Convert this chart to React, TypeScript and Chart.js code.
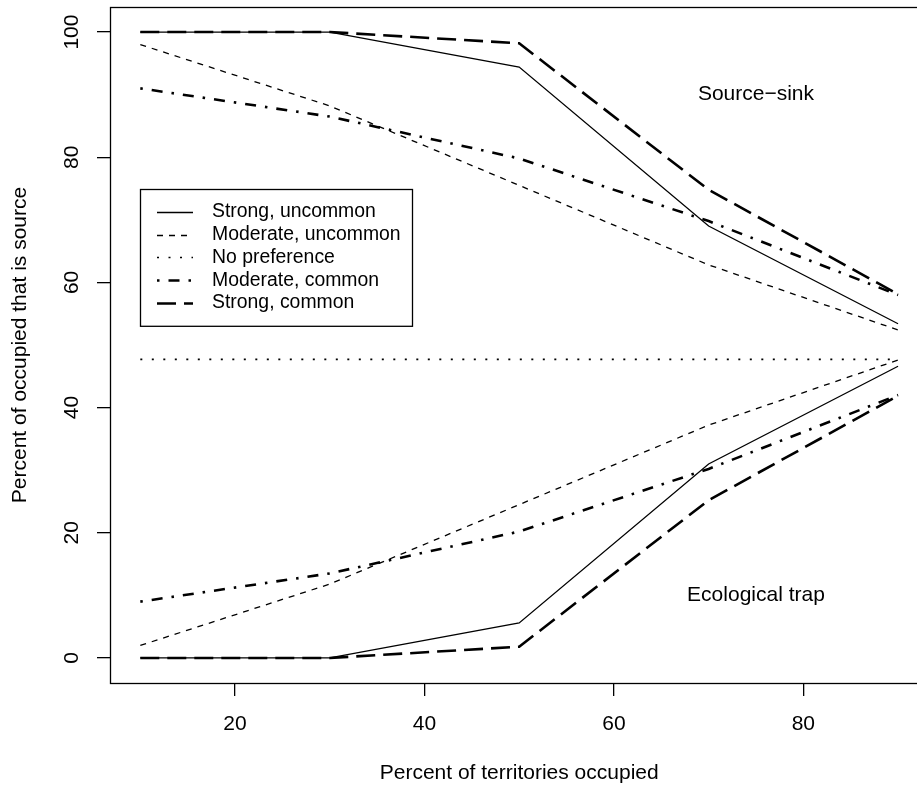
import React, { useEffect, useRef } from "react";
import { Chart, registerables } from "chart.js";

Chart.register(...registerables);

// ---- data ----
const xValues = [10, 30, 50, 70, 90];
const strongUncommonSource = [100, 100, 94.4, 69.0, 53.4];
const strongUncommonTrap = [0, 0, 5.6, 31.0, 46.6];
const moderateUncommonSource = [98, 88.2, 75.5, 62.8, 52.4];
const moderateUncommonTrap = [2, 11.8, 24.5, 37.2, 47.6];
const noPreference = [47.7, 47.7, 47.7, 47.7, 47.7];
const moderateCommonSource = [91, 86.5, 79.8, 69.8, 58.0];
const moderateCommonTrap = [9, 13.5, 20.2, 30.2, 42.0];
const strongCommonSource = [100, 100, 98.2, 74.8, 58.1];
const strongCommonTrap = [0, 0, 1.8, 25.2, 41.9];

const xTicks = [20, 40, 60, 80];
const yTicks = [0, 20, 40, 60, 80, 100];

const legendLabels = [
  "Strong, uncommon",
  "Moderate, uncommon",
  "No preference",
  "Moderate, common",
  "Strong, common",
];

const xTitle = "Percent of territories occupied";
const yTitle = "Percent of occupied that is source";
const annotations = [
  { text: "Source\u2212sink", x: 75, y: 90 },
  { text: "Ecological trap", x: 75, y: 10 },
];

// axis range (the plot's right part runs past the image edge)
const X_MIN = 6.8;
const X_BOX_MAX = 93.2;
const X_VISIBLE_MAX = 92.0;

// ---- styles ----
const FONT = '"Liberation Sans", Arial, Helvetica, sans-serif';
const styles = [
  { width: 1.3, dash: [] as number[] },
  { width: 1.3, dash: [6, 6] },
  { width: 1.6, dash: [2, 9.5] },
  { width: 2.6, dash: [2.5, 9, 11, 9] },
  { width: 2.6, dash: [19, 8] },
];

const seriesSets: number[][][] = [
  [strongUncommonSource, strongUncommonTrap],
  [moderateUncommonSource, moderateUncommonTrap],
  [noPreference],
  [moderateCommonSource, moderateCommonTrap],
  [strongCommonSource, strongCommonTrap],
];

const overlay = {
  id: "rbase",
  afterDraw(chart: any) {
    const ctx = chart.ctx as CanvasRenderingContext2D;
    const a = chart.chartArea;
    const xs = chart.scales.x;
    const ys = chart.scales.y;
    ctx.save();
    ctx.strokeStyle = "#000";
    ctx.fillStyle = "#000";
    // plot box (right side is past the canvas edge)
    const boxRight = xs.getPixelForValue(X_BOX_MAX);
    ctx.lineWidth = 1.3;
    ctx.setLineDash([]);
    ctx.strokeRect(a.left + 0.5, a.top + 0.5, boxRight - a.left, a.bottom - a.top);

    // tick labels
    ctx.font = `21px ${FONT}`;
    ctx.textAlign = "center";
    ctx.textBaseline = "middle";
    xTicks.forEach((v) => {
      ctx.fillText(String(v), xs.getPixelForValue(v), 724);
    });
    yTicks.forEach((v) => {
      ctx.save();
      ctx.translate(72.5, ys.getPixelForValue(v));
      ctx.rotate(-Math.PI / 2);
      ctx.fillText(String(v), 0, 0);
      ctx.restore();
    });

    // axis titles
    ctx.fillText(xTitle, (a.left + boxRight) / 2, 773);
    ctx.save();
    ctx.translate(20, (a.top + a.bottom) / 2);
    ctx.rotate(-Math.PI / 2);
    ctx.fillText(yTitle, 0, 0);
    ctx.restore();

    // annotations
    annotations.forEach((t) => {
      ctx.fillText(t.text, xs.getPixelForValue(t.x), ys.getPixelForValue(t.y));
    });

    // legend
    const lx = 140, ly = 189, lw = 272, step = 22.8;
    const lh = step * (legendLabels.length + 1);
    ctx.lineWidth = 1.3;
    ctx.strokeRect(lx + 0.5, ly + 0.5, lw, lh);
    ctx.font = `19.4px ${FONT}`;
    ctx.textAlign = "left";
    legendLabels.forEach((lab, i) => {
      const cy = ly + step * (i + 1);
      const st = styles[i];
      ctx.save();
      ctx.lineWidth = st.width;
      ctx.setLineDash(st.dash);
      ctx.beginPath();
      ctx.moveTo(157, Math.round(cy) + 0.5);
      ctx.lineTo(193, Math.round(cy) + 0.5);
      ctx.stroke();
      ctx.restore();
      ctx.fillText(lab, 212, cy);
    });
    ctx.restore();
  },
};

export default function App() {
  const ref = useRef<HTMLCanvasElement | null>(null);
  useEffect(() => {
    if (!ref.current) return;
    const datasets: any[] = [];
    seriesSets.forEach((set, i) => {
      set.forEach((vals) => {
        datasets.push({
          label: legendLabels[i],
          data: xValues.map((x, j) => ({ x, y: vals[j] })),
          borderColor: "#000",
          backgroundColor: "#000",
          borderWidth: styles[i].width,
          borderDash: styles[i].dash,
          pointRadius: 0,
          fill: false,
          tension: 0,
        });
      });
    });
    const chart = new Chart(ref.current, {
      type: "line",
      data: { datasets },
      options: {
        responsive: false,
        animation: false,
        devicePixelRatio: 1,
        layout: { padding: { top: 7, right: 0, left: 0, bottom: 0 } },
        plugins: { legend: { display: false }, tooltip: { enabled: false } },
        scales: {
          x: {
            type: "linear",
            min: X_MIN,
            max: X_VISIBLE_MAX,
            afterBuildTicks: (s: any) => {
              s.ticks = xTicks.map((v) => ({ value: v }));
            },
            afterFit: (s: any) => {
              s.height = 109;
            },
            ticks: { display: false },
            grid: { drawOnChartArea: false, drawTicks: true, tickLength: 13, color: "#000", lineWidth: 1.3 },
            border: { display: false },
          },
          y: {
            type: "linear",
            min: -4,
            max: 104,
            afterBuildTicks: (s: any) => {
              s.ticks = yTicks.map((v) => ({ value: v }));
            },
            afterFit: (s: any) => {
              s.width = 110;
            },
            ticks: { display: false },
            grid: { drawOnChartArea: false, drawTicks: true, tickLength: 13, color: "#000", lineWidth: 1.3 },
            border: { display: false },
          },
        },
      },
      plugins: [overlay],
    });
    return () => chart.destroy();
  }, []);
  return (
    <div style={{ position: "absolute", left: 0, top: 0, width: 917, height: 792, overflow: "hidden", background: "#fff" }}>
      <canvas ref={ref} width={917} height={792} style={{ display: "block" }} />
    </div>
  );
}
